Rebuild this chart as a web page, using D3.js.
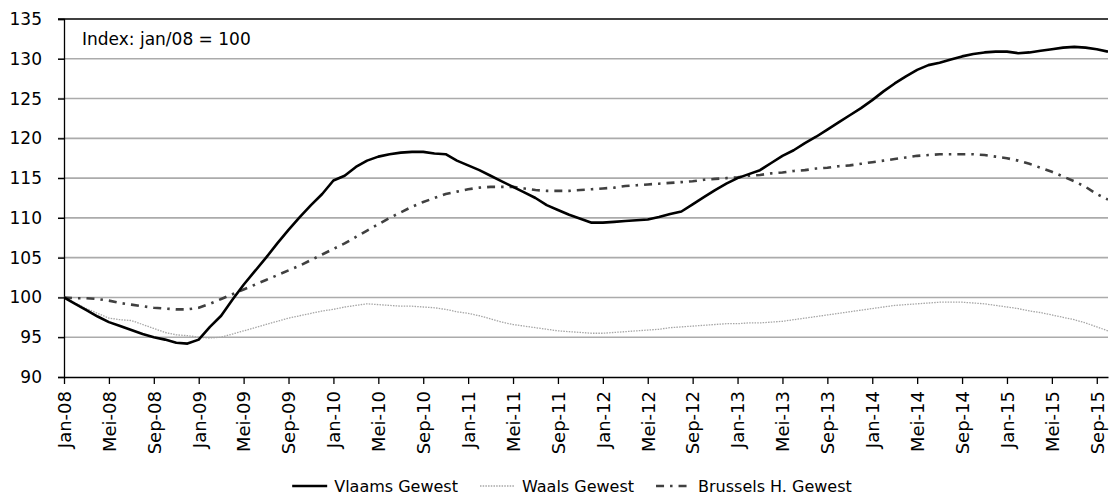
<!DOCTYPE html>
<html>
<head>
<meta charset="utf-8">
<script src="https://d3js.org/d3.v7.min.js"></script>
<title>Index woningprijzen per gewest</title>
<style>
  body { margin: 0; background: white; }
  svg text { font-family: "DejaVu Sans", sans-serif; fill: #000; }
</style>
</head>
<body>
<script>
// maandelijkse reeksen jan-08 .. okt-15 (index jan/08 = 100)
const months = ['Jan', 'Feb', 'Mrt', 'Apr', 'Mei', 'Jun', 'Jul', 'Aug', 'Sep', 'Okt', 'Nov', 'Dec']

const vlaams = [
  100, 99.2, 98.4, 97.6, 96.9, 96.4, 95.9, 95.4, 95.0, 94.7, 94.3, 94.2,
  94.7, 96.3, 97.7, 99.7, 101.6, 103.3, 105.0, 106.8, 108.5, 110.1, 111.6, 113.0,
  114.7, 115.3, 116.4, 117.2, 117.7, 118.0, 118.2, 118.3, 118.3, 118.1, 118.0, 117.2,
  116.6, 116.0, 115.3, 114.6, 113.9, 113.2, 112.5, 111.6, 111.0, 110.4, 109.9, 109.4,
  109.4, 109.5, 109.6, 109.7, 109.8, 110.1, 110.5, 110.8, 111.7, 112.6, 113.5, 114.3,
  115.0, 115.5, 116.0, 116.9, 117.8, 118.5, 119.4, 120.2, 121.1, 122.0, 122.9, 123.8,
  124.8, 125.9, 126.9, 127.8, 128.6, 129.2, 129.5, 129.9, 130.3, 130.6, 130.8, 130.9,
  130.9, 130.7, 130.8, 131.0, 131.2, 131.4, 131.5, 131.4, 131.2, 130.9
]

const waals = [
  100, 99.3, 98.6, 98.0, 97.4, 97.2, 97.1, 96.6, 96.1, 95.6, 95.3, 95.2,
  95.0, 94.9, 95.0, 95.4, 95.8, 96.2, 96.6, 97.0, 97.4, 97.7, 98.0, 98.3,
  98.5, 98.8, 99.0, 99.2, 99.1, 99.0, 98.9, 98.9, 98.8, 98.7, 98.5, 98.2,
  98.0, 97.7, 97.3, 96.9, 96.6, 96.4, 96.2, 96.0, 95.8, 95.7, 95.6, 95.5,
  95.5, 95.6, 95.7, 95.8, 95.9, 96.0, 96.2, 96.3, 96.4, 96.5, 96.6, 96.7,
  96.7, 96.8, 96.8, 96.9, 97.0, 97.2, 97.4, 97.6, 97.8, 98.0, 98.2, 98.4,
  98.6, 98.8, 99.0, 99.1, 99.2, 99.3, 99.4, 99.4, 99.4, 99.3, 99.2, 99.0,
  98.8, 98.6, 98.3, 98.1, 97.8, 97.5, 97.2, 96.8, 96.3, 95.8
]

const brussels = [
  100, 99.9, 99.9, 99.8, 99.6, 99.3, 99.1, 98.9, 98.7, 98.6, 98.5, 98.5,
  98.7, 99.2, 99.8, 100.4, 101.0, 101.6, 102.2, 102.8, 103.4, 104.0, 104.7, 105.4,
  106.1, 106.8, 107.6, 108.4, 109.2, 110.0, 110.7, 111.4, 112.0, 112.5, 113.0, 113.3,
  113.6, 113.8, 113.9, 113.9, 113.9, 113.7, 113.5, 113.4, 113.4, 113.4, 113.5, 113.6,
  113.7, 113.8, 114.0, 114.1, 114.2, 114.3, 114.4, 114.5, 114.6, 114.8, 114.9, 115.0,
  115.1, 115.3, 115.4, 115.6, 115.7, 115.9, 116.0, 116.2, 116.3, 116.5, 116.6, 116.8,
  117.0, 117.2, 117.4, 117.6, 117.8, 117.9, 118.0, 118.0, 118.0, 118.0, 117.9, 117.7,
  117.5, 117.2, 116.8, 116.3, 115.8, 115.2, 114.6, 113.9, 113.0, 112.3
]

const seriesNames = ['Vlaams Gewest', 'Waals Gewest', 'Brussels H. Gewest']
const yTicks = [90, 95, 100, 105, 110, 115, 120, 125, 130, 135]
const tickMonths = d3.range(0, 93, 4)   // jan, mei, sep
const tickLabels = tickMonths.map(m => months[m % 12] + '-' + String(8 + Math.floor(m / 12)).padStart(2, '0'))

const width = 1110
const height = 504
const margin = {top: 19, right: 2, bottom: 127, left: 64}

const svg = d3.select('body')
  .append('svg')
    .attr('width', width)
    .attr('height', height)

const xScale = d3.scaleLinear().domain([0, vlaams.length - 1]).range([margin.left, width - margin.right])
const yScale = d3.scaleLinear().domain([90, 135]).range([height - margin.bottom, margin.top])

// rasterlijnen
svg.append('g')
  .selectAll('line')
  .data(yTicks.filter(d => d > 90))
  .join('line')
    .attr('x1', margin.left - 6)
    .attr('x2', width - margin.right)
    .attr('y1', d => yScale(d))
    .attr('y2', d => yScale(d))
    .attr('stroke', d => d === 135 ? '#000' : '#ababab')
    .attr('stroke-width', d => d === 135 ? 1.3 : 1.6)

// y-as
const yAxis = d3.axisLeft(yScale).tickValues(yTicks).tickSize(6).tickPadding(16)
const gy = svg.append('g')
  .attr('transform', `translate(${margin.left},0)`)
  .call(yAxis)
gy.select('.domain').attr('stroke', '#000').attr('stroke-width', 1.3)
gy.selectAll('.tick line').attr('stroke', '#000').attr('stroke-width', 1.3)
gy.selectAll('.tick text').attr('font-size', 17).attr('font-family', '"DejaVu Sans", sans-serif')

// x-as
const xAxis = d3.axisBottom(xScale).tickValues(tickMonths).tickFormat((d, i) => tickLabels[i]).tickSize(7).tickSizeOuter(0)
const gx = svg.append('g')
  .attr('transform', `translate(0,${height - margin.bottom})`)
  .call(xAxis)
gx.select('.domain').attr('stroke', '#000').attr('stroke-width', 1.3)
gx.selectAll('.tick line').attr('stroke', '#000').attr('stroke-width', 1.3)
gx.selectAll('.tick text')
  .attr('font-size', 18)
  .attr('font-family', '"DejaVu Sans", sans-serif')
  .attr('text-anchor', 'end')
  .attr('transform', 'rotate(-90)')
  .attr('x', -14)
  .attr('y', 0)
  .attr('dy', '0.35em')

svg.append('defs').append('clipPath').attr('id', 'plot')
  .append('rect')
    .attr('x', margin.left).attr('y', margin.top - 5)
    .attr('width', width - margin.left - margin.right).attr('height', height - margin.top - margin.bottom + 5)

const line = d3.line()
  .x((d, i) => xScale(i))
  .y(d => yScale(d))

const styles = [
  {data: waals, stroke: '#a6a6a6', width: 1.3, dash: '1.5,1.2'},
  {data: brussels, stroke: '#404040', width: 2.6, dash: '8,6,2.5,6'},
  {data: vlaams, stroke: '#000', width: 2.6, dash: null}
]

svg.append('g')
  .attr('clip-path', 'url(#plot)')
  .selectAll('path')
  .data(styles)
  .join('path')
    .attr('d', d => line(d.data))
    .attr('fill', 'none')
    .attr('stroke', d => d.stroke)
    .attr('stroke-width', d => d.width)
    .attr('stroke-dasharray', d => d.dash)
    .attr('stroke-linejoin', 'round')

svg.append('text')
  .attr('x', 82)
  .attr('y', 45)
  .attr('font-size', 17)
  .text('Index: jan/08 = 100')

// legende
const legendStyles = [styles[2], styles[0], styles[1]]
const legend = svg.append('g').attr('transform', 'translate(0,486)')
const items = legend.selectAll('g')
  .data(seriesNames)
  .join('g')
items.append('line')
  .attr('x1', 0).attr('x2', 35)
  .attr('y1', 0).attr('y2', 0)
  .attr('stroke', (d, i) => legendStyles[i].stroke)
  .attr('stroke-width', (d, i) => legendStyles[i].width)
  .attr('stroke-dasharray', (d, i) => legendStyles[i].dash)
items.append('text')
  .attr('x', 42)
  .attr('dy', '0.35em')
  .attr('font-size', 16)
  .text(d => d)

let pos = 0
const offsets = []
items.each(function () {
  offsets.push(pos)
  pos += this.getBBox().width + 22
})
const total = pos - 22
const start = 572 - total / 2
items.attr('transform', (d, i) => `translate(${start + offsets[i]},0)`)
</script>
</body>
</html>
